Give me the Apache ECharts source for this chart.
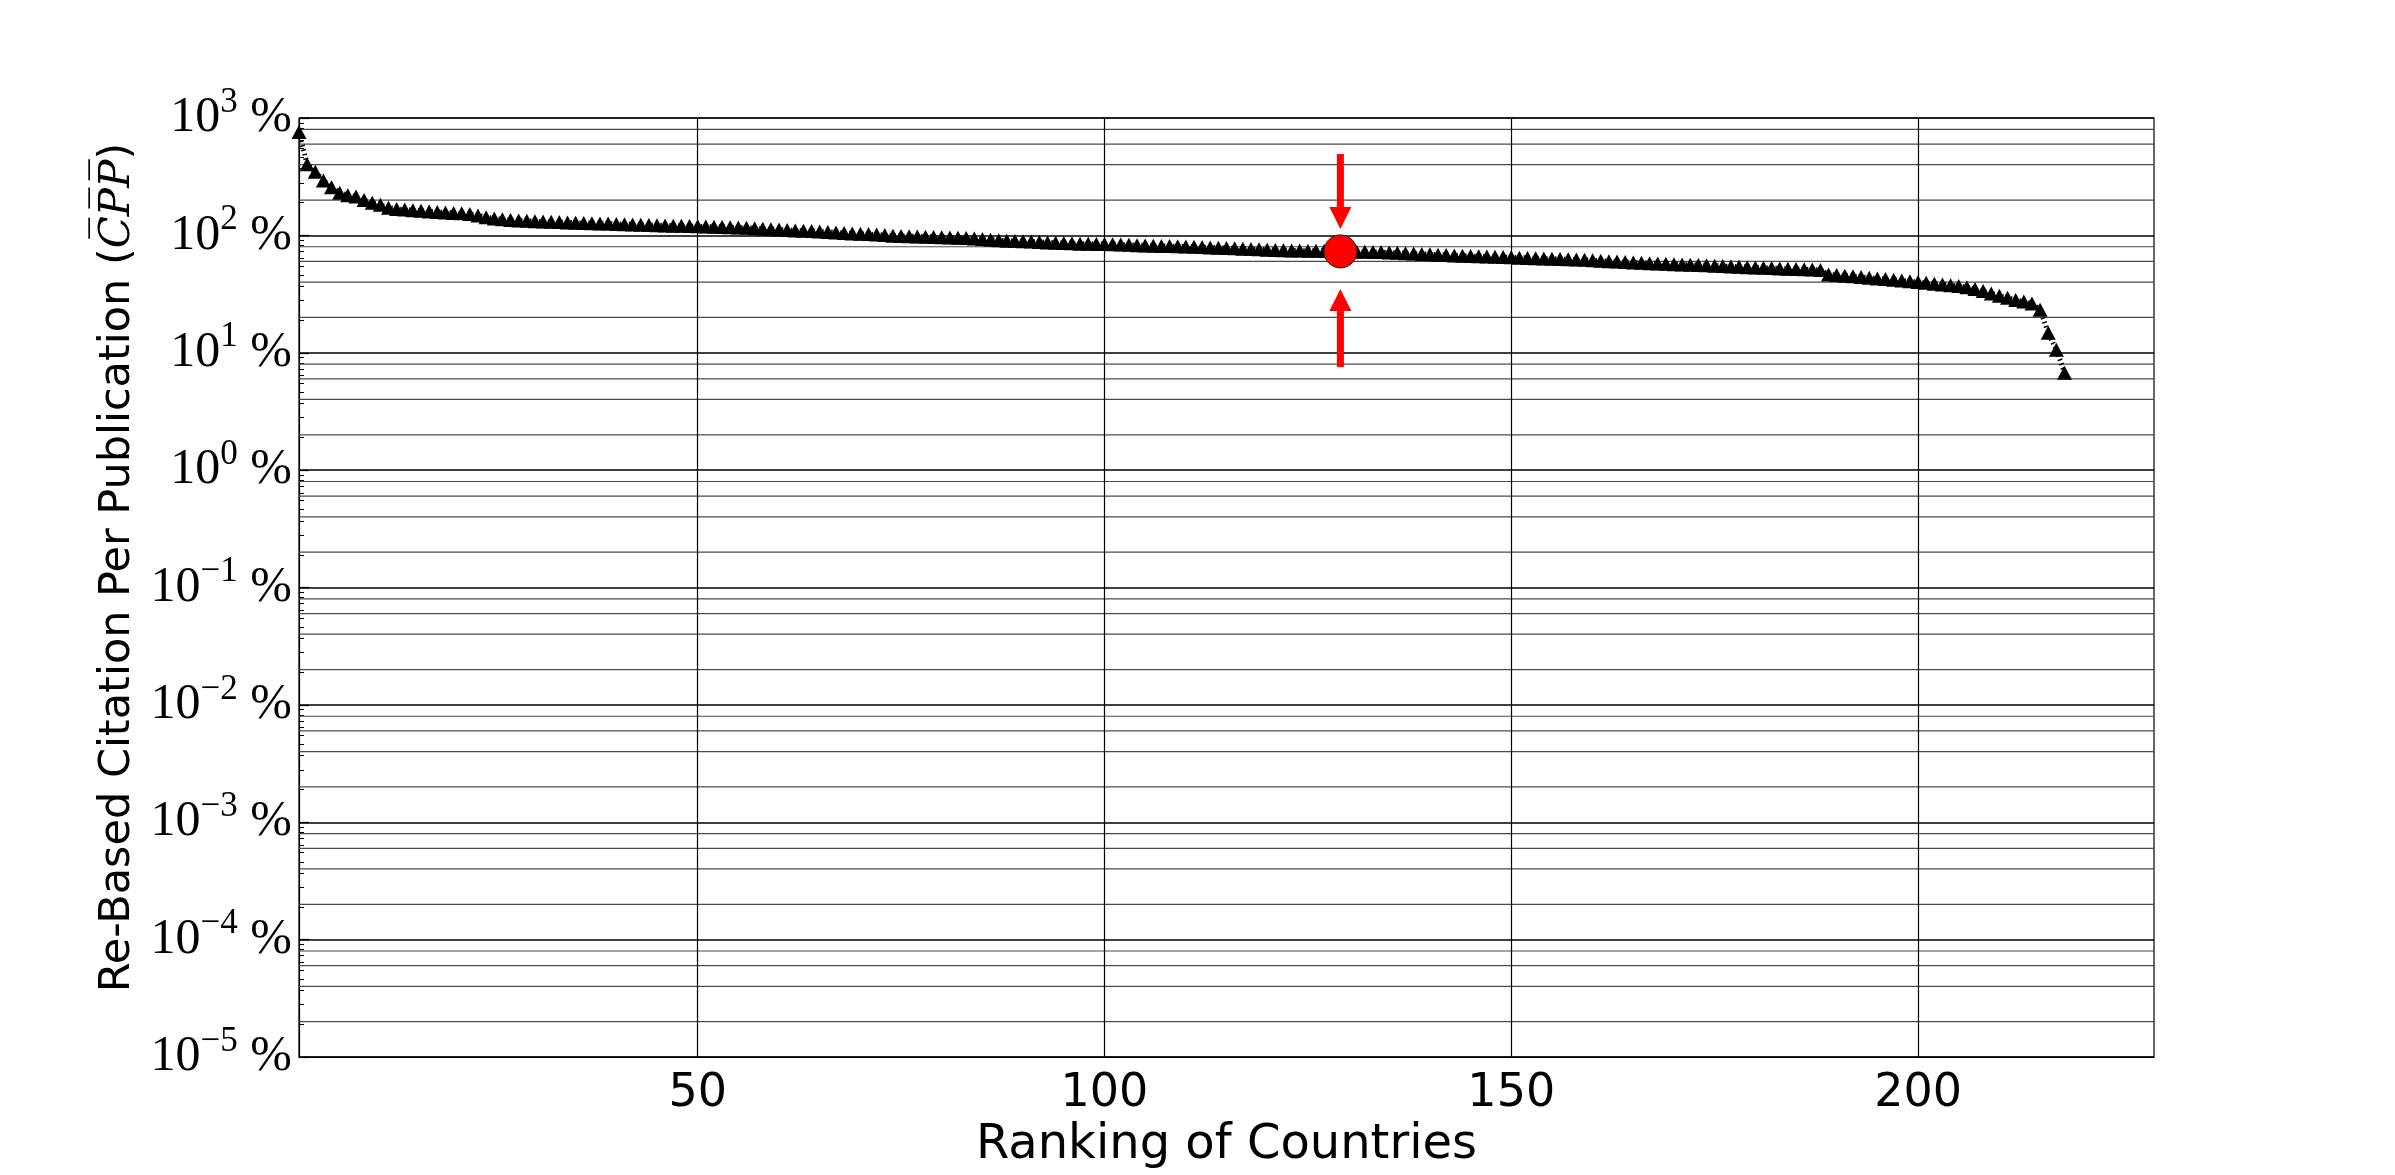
<!DOCTYPE html>
<html>
<head>
<meta charset="utf-8">
<script src="https://cdn.jsdelivr.net/npm/echarts@6/dist/echarts.min.js"></script>
<style>
html,body{margin:0;padding:0;background:#fff;}
#chart{width:2395px;height:1175px;}
</style>
</head>
<body>
<div id="chart"></div>
<script>
// Re-based citation per publication (%) by country rank
const cpp = [
760, 403, 349, 294, 257, 231, 220, 214, 200, 190,
182, 172, 168, 166, 164, 162, 160, 158, 157, 155,
154, 152, 148, 143, 139, 137, 135, 134, 133, 132,
131, 130.5, 130, 129, 128, 127.5, 127, 126.5, 126, 125,
124.5, 124, 123, 122.5, 122, 121.5, 121, 120.5, 120, 119.5,
119, 118.5, 118, 117, 116.5, 116, 115, 114, 113, 112,
111, 110, 109.5, 109, 108, 107, 106, 105, 104, 103,
102.5, 101.5, 100.5, 99.5, 99, 98.5, 98, 97.5, 97, 96.5,
96, 95.5, 95, 94, 93, 92, 91, 90, 89.5, 89,
88.5, 88, 87, 86.5, 86, 85.5, 85, 84.8, 84.6, 84.3,
84, 83.5, 83, 82.5, 82, 81.5, 81.2, 81, 80.7, 80.5,
80, 79.5, 79, 78.5, 78, 77.5, 77, 76.5, 76, 75.6,
75.2, 74.8, 74.5, 74.2, 74, 73.8, 73.5, 73.3, 73, 72.8,
72.6, 72.4, 72.2, 72, 71.5, 71, 70.5, 70, 69.5, 69,
68.5, 68, 67.5, 67, 66.7, 66.3, 66, 65.7, 65.3, 65,
64.6, 64.2, 63.8, 63.5, 63.2, 62.9, 62.6, 62.3, 62, 61.4,
60.8, 60.3, 59.8, 59.3, 58.8, 58.4, 58, 57.6, 57.2, 56.8,
56.5, 56.2, 55.9, 55.6, 55.2, 54.8, 54.4, 54, 53.6, 53.2,
52.9, 52.6, 52.3, 52, 51.7, 51.4, 51.1, 50.8, 46.5, 46,
45.4, 44.8, 44.2, 43.6, 43, 42.4, 41.8, 41.2, 40.6, 40,
39.4, 38.8, 38.2, 37.6, 37, 36.2, 35, 33.5, 32, 30.6,
29.4, 28.2, 27.3, 26.3, 23.3, 14.8, 10.6, 6.76
];
const ranks = cpp.map((v, i) => i + 1);
const highlightRank = 129;
const xTickLabels = [50, 100, 150, 200];
const yDecades = [-5, -4, -3, -2, -1, 0, 1, 2, 3];
const minorSubs = [2, 4, 6, 8];
// arrow annotations: [rank, tail value, tip value]
const arrows = [[129, 493, 113.5], [129, 7.57, 34.9]];

const points = ranks.map((r, i) => [r, cpp[i]]);
const highlight = [[highlightRank, cpp[highlightRank - 1]]];

const minorRows = [];
yDecades.slice(0, -1).forEach(k => minorSubs.forEach(s => minorRows.push([1, s * Math.pow(10, k)])));
const vLines = xTickLabels.map(v => ({xAxis: v}));

function supText(k) {
  const e = k < 0 ? '\u2212' + (-k) : String(k);
  return '{b|10}{s|' + e + '}{b| %}';
}

const chart = echarts.init(document.getElementById('chart'));
chart.setOption({
  backgroundColor: '#fff',
  animation: false,
  grid: {left: 299, right: 241, top: 118, bottom: 118, show: true, borderColor: '#000', borderWidth: 1.2, backgroundColor: 'transparent'},
  xAxis: {
    type: 'value', min: 1, max: 229,
    name: 'Ranking of Countries', nameLocation: 'middle', nameGap: 62,
    nameTextStyle: {fontFamily: 'DejaVu Sans', fontSize: 48, color: '#000'},
    axisLine: {show: true, lineStyle: {color: '#000', width: 1.2}},
    axisTick: {show: false},
    splitLine: {show: false},
    axisLabel: {customValues: xTickLabels, fontFamily: 'DejaVu Sans', fontSize: 46, color: '#000', margin: 14}
  },
  yAxis: {
    type: 'log', logBase: 10, min: 1e-5, max: 1e3, splitNumber: 8,
    name: 'Re-Based Citation Per Publication ({i|C\u0305P\u0305P\u0305})',
    nameLocation: 'middle', nameGap: 158,
    nameTextStyle: {fontFamily: 'DejaVu Sans', fontSize: 43, color: '#000', padding: [0, 0, 0, 40],
      rich: {i: {fontFamily: 'DejaVu Serif', fontStyle: 'italic', fontSize: 42, color: '#000'}}},
    axisLine: {show: true, lineStyle: {color: '#000', width: 1.2}},
    axisTick: {show: true, inside: true, length: 10, lineStyle: {color: '#000', width: 1.2}},
    minorTick: {show: true, splitNumber: 10, length: 5, lineStyle: {color: '#000', width: 1}},
    splitLine: {show: true, lineStyle: {color: '#000', width: 1.5}},
    axisLabel: {
      margin: 7,
      formatter: function (v) { return supText(Math.round(Math.log10(v))); },
      rich: {
        b: {fontFamily: 'Liberation Serif', fontSize: 50, color: '#000', lineHeight: 66},
        s: {fontFamily: 'Liberation Serif', fontSize: 35, color: '#000', lineHeight: 35, verticalAlign: 'top'}
      }
    }
  },
  series: [
    {
      type: 'custom', data: minorRows, z: 1, silent: true,
      encode: {x: 0, y: 1},
      renderItem: function (params, api) {
        const cs = params.coordSys;
        const y = api.coord([api.value(0), api.value(1)])[1];
        return {type: 'line', shape: {x1: cs.x, y1: y, x2: cs.x + cs.width, y2: y}, style: {stroke: '#4a4a4a', lineWidth: 1.2}};
      }
    },
    {
      type: 'line', data: points, z: 2, symbol: 'none',
      lineStyle: {color: '#000', width: 5, type: [1.5, 3]},
      markLine: {
        silent: true, symbol: ['none', 'none'], label: {show: false},
        lineStyle: {color: '#000', width: 1.2, type: 'solid'},
        data: vLines
      }
    },
    {
      type: 'scatter', data: points, z: 3, symbol: 'triangle', symbolSize: [15, 14],
      itemStyle: {color: '#000', opacity: 1}
    },
    {
      type: 'scatter', data: highlight, z: 5, symbol: 'circle', symbolSize: 33,
      itemStyle: {color: '#ff0000', borderColor: '#222', borderWidth: 1, opacity: 1}
    },
    {
      type: 'custom', data: arrows, z: 6,
      encode: {x: 0, y: [1, 2]},
      renderItem: function (params, api) {
        const x = api.value(0);
        const p0 = api.coord([x, api.value(1)]);
        const p1 = api.coord([x, api.value(2)]);
        const dir = p1[1] > p0[1] ? 1 : -1;
        const headLen = 22, headW = 11, shaftW = 3.5;
        const baseY = p1[1] - dir * headLen;
        return {
          type: 'group',
          children: [
            {type: 'rect', shape: {x: p0[0] - shaftW, y: Math.min(p0[1], baseY), width: 2 * shaftW, height: Math.abs(baseY - p0[1])}, style: {fill: '#ff0000'}},
            {type: 'polygon', shape: {points: [[p1[0], p1[1]], [p1[0] - headW, baseY], [p1[0] + headW, baseY]]}, style: {fill: '#ff0000'}}
          ]
        };
      }
    }
  ]
});
</script>
</body>
</html>
